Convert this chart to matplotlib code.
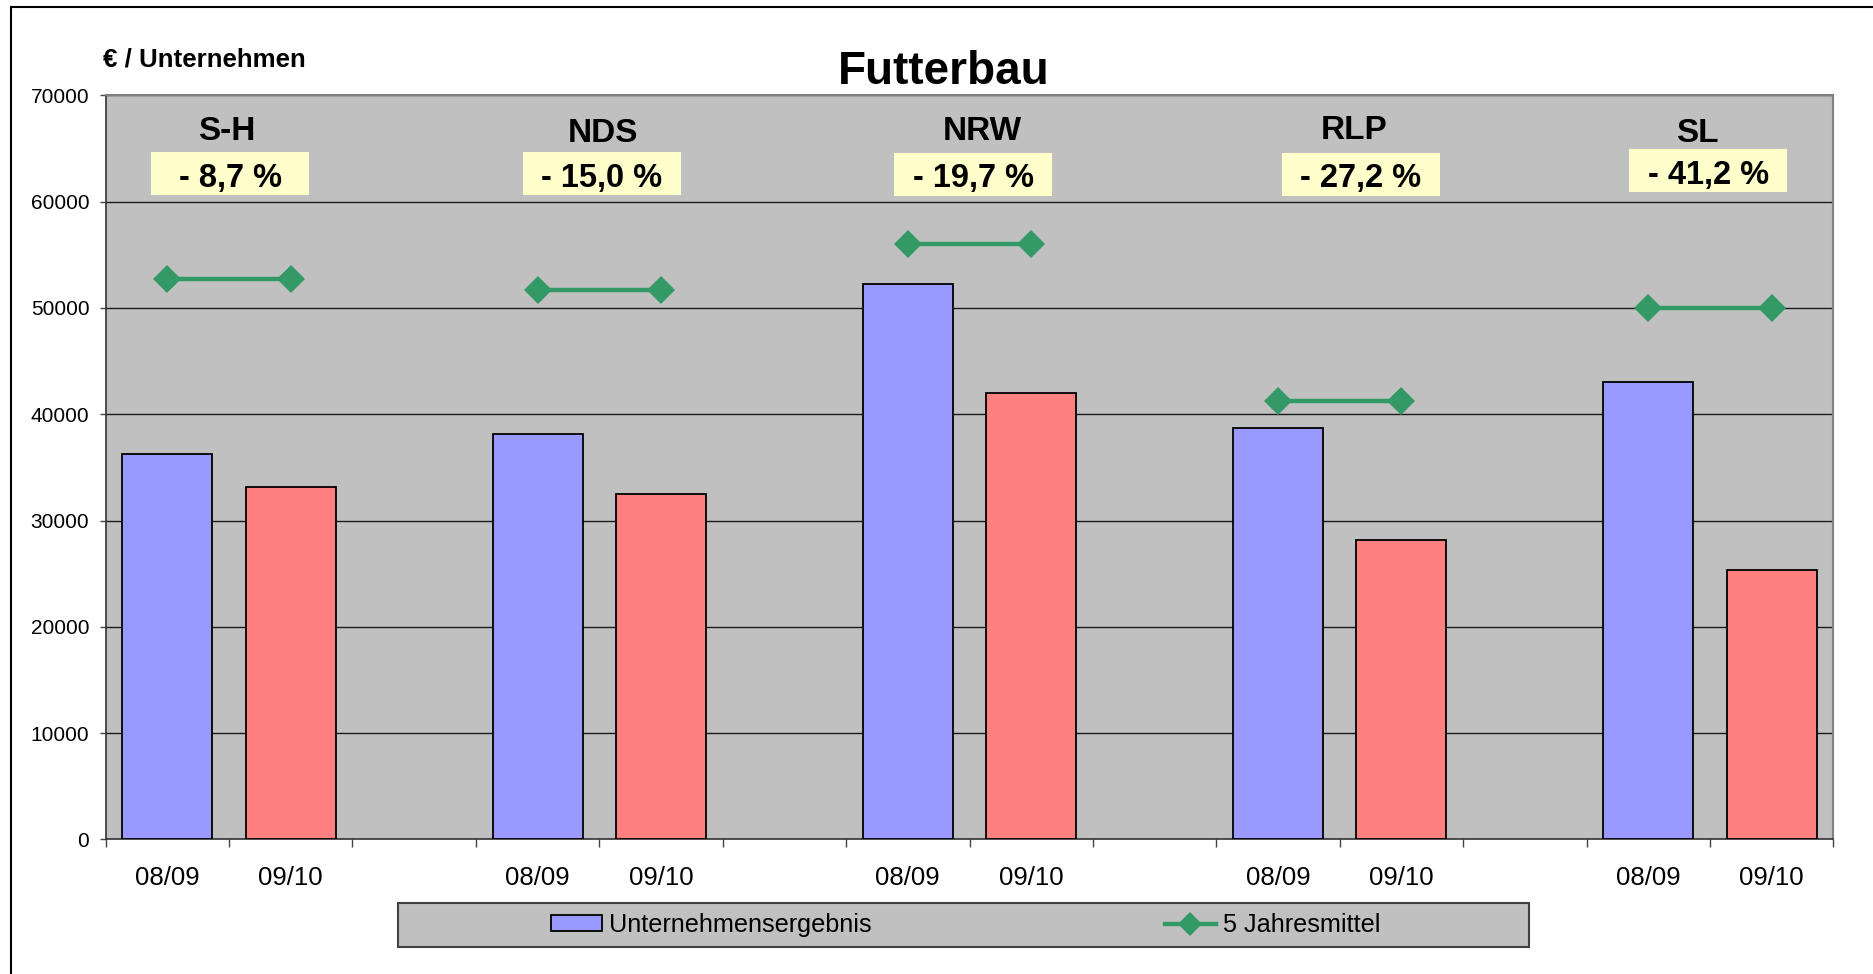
import numpy as np
import matplotlib
matplotlib.use("Agg")
import matplotlib.pyplot as plt
from matplotlib.patches import Rectangle
from matplotlib.lines import Line2D

plt.rcParams["font.family"] = ["Liberation Sans", "DejaVu Sans"]

# data
regions = ["S-H", "NDS", "NRW", "RLP", "SL"]
years = ["08/09", "09/10"]
ergebnis_0809 = [36300, 38150, 52300, 38750, 43050]
ergebnis_0910 = [33150, 32450, 42000, 28150, 25300]
mittel_5j = [52750, 51700, 56000, 41200, 50000]
changes = ["- 8,7 %", "- 15,0 %", "- 19,7 %", "- 27,2 %", "- 41,2 %"]

blue = "#9999FF"
red = "#FF8080"
green = "#339966"

# category layout: 08/09, 09/10, gap, ... (no gap after the last region)
cats, vals, cols, avg = [], [], [], []
for i in range(len(regions)):
    cats += years
    vals += [ergebnis_0809[i], ergebnis_0910[i]]
    cols += [blue, red]
    avg += [mittel_5j[i], mittel_5j[i]]
    if i < len(regions) - 1:
        cats.append("")
        vals.append(np.nan)
        cols.append(blue)
        avg.append(np.nan)
x = np.arange(len(cats))
vals = np.array(vals, dtype=float)
avg = np.array(avg, dtype=float)
ok = ~np.isnan(vals)

fig = plt.figure(figsize=(18.74, 9.74), dpi=100)
ax = fig.add_axes([0.0564, 0.1383, 0.9219, 0.7637])
ax.set_facecolor("#C0C0C0")

bars = ax.bar(x[ok], vals[ok], width=0.73, color=np.array(cols)[ok],
              edgecolor="black", linewidth=1.3, zorder=3)
line, = ax.plot(x, avg, color=green, lw=3.2, marker="D", ms=14,
                markeredgewidth=0, zorder=4)

ax.set_xlim(-0.5, len(cats) - 0.5)
ax.set_ylim(0, 70000)
ax.set_yticks(np.arange(0, 70001, 10000))
ax.yaxis.grid(True, color="#1a1a1a", lw=1.0)
ax.set_axisbelow(True)

ax.set_xticks(np.arange(-0.5, len(cats)), labels=[])
ax.set_xticks(x, labels=cats, minor=True)
ax.tick_params(axis="x", which="major", length=6, width=1, color="#444444")
ax.tick_params(axis="x", which="minor", length=0, pad=19, labelsize=18.5)
ax.tick_params(axis="y", length=4.3, width=1, pad=7.5, labelsize=15,
               color="#444444")

for s in ["left", "bottom"]:
    ax.spines[s].set_color("#333333")
    ax.spines[s].set_linewidth(1.2)
for s in ["top", "right"]:
    ax.spines[s].set_color("#808080")
    ax.spines[s].set_linewidth(1.5)

# region names and change boxes
name_dx = [-0.02, 0.03, 0.1, 0.12, -0.1]
box_dx = [0.01, 0.02, 0.03, 0.17, -0.015]
name_y = [65850, 65600, 65850, 65900, 65600]
box_y = [62650, 62650, 62600, 62600, 62900]
for i, reg in enumerate(regions):
    gc = 3 * i + 0.5
    ax.text(gc + name_dx[i], name_y[i], reg, ha="center", va="baseline",
            fontsize=24, fontweight="bold", zorder=6)
    bx = gc + box_dx[i]
    ax.add_patch(Rectangle((bx - 0.64, box_y[i] - 2025), 1.28, 4050,
                           facecolor="#FFFFCC", edgecolor="none", zorder=5))
    ax.text(bx, box_y[i] - 1223, changes[i], ha="center", va="baseline",
            fontsize=23.5, fontweight="bold", zorder=6)

fig.text(944 / 1874, 1 - 84 / 974, "Futterbau", ha="center", va="baseline",
         fontsize=33, fontweight="bold")
fig.text(103 / 1874, 1 - 66.5 / 974, "€ / Unternehmen", ha="left",
         va="baseline", fontsize=18.6, fontweight="bold")

# legend box
fig.add_artist(Rectangle((398 / 1874, 1 - 947 / 974), 1131 / 1874, 44 / 974,
                         transform=fig.transFigure, facecolor="#C0C0C0",
                         edgecolor="#404040", lw=1.5))
fig.legend([bars, line], ["Unternehmensergebnis", "5 Jahresmittel"],
           loc="center", bbox_to_anchor=(966 / 1874, 1 - 925 / 974),
           ncol=2, frameon=False, fontsize=18.2, handlelength=2.0,
           handleheight=0.58, handletextpad=0.3, columnspacing=11.6,
           markerscale=0.85)

# outer frame (left and top edges visible)
fx = 11.3 / 1874
fy = 1 - 7 / 974
fig.add_artist(Line2D([fx, fx], [0, fy], color="black", lw=1.5,
                      transform=fig.transFigure))
fig.add_artist(Line2D([fx, 1], [fy, fy], color="black", lw=1.5,
                      transform=fig.transFigure))

fig.savefig("out.png", dpi=100)
